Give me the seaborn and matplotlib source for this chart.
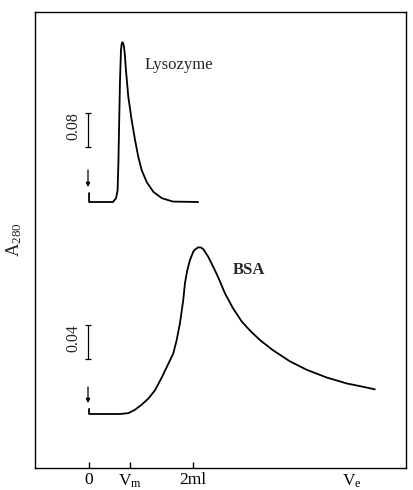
import numpy as np
import pandas as pd
import matplotlib
matplotlib.use("Agg")
import matplotlib.pyplot as plt
import seaborn as sns

# ---------------- data (elution volume in ml, absorbance A280) ----------------
lys_ml = [0.0, 0.0, 0.46, 0.52, 0.55, 0.565, 0.577, 0.596, 0.615, 0.628, 0.64,
          0.655, 0.673, 0.69, 0.71, 0.756, 0.82, 0.885, 0.948, 1.013, 1.11,
          1.237, 1.40, 1.615, 2.10]
lys_A = [0.021, 0.0, 0.0, 0.009, 0.028, 0.092, 0.169, 0.287, 0.358, 0.372, 0.376,
         0.374, 0.365, 0.345, 0.311, 0.247, 0.193, 0.146, 0.106, 0.075, 0.047,
         0.024, 0.009, 0.001, 0.0]

bsa_ml = [0.0, 0.0, 0.596, 0.756, 0.885, 1.013, 1.14, 1.27, 1.40, 1.525, 1.62,
          1.687, 1.75, 1.813, 1.846, 1.89, 1.942, 2.006, 2.05, 2.10, 2.15,
          2.198, 2.294, 2.423, 2.506, 2.615, 2.775, 2.937, 3.10, 3.29, 3.54,
          3.865, 4.19, 4.57, 4.956, 5.275, 5.50]
bsa_A = [0.006, 0.0, 0.0, 0.001, 0.005, 0.011, 0.018, 0.028, 0.043, 0.059, 0.071,
         0.087, 0.107, 0.134, 0.154, 0.169, 0.181, 0.191, 0.194, 0.196, 0.196,
         0.194, 0.185, 0.169, 0.158, 0.142, 0.124, 0.109, 0.098, 0.087,
         0.075, 0.062, 0.052, 0.043, 0.036, 0.032, 0.029]

tick_pos = [0.0, 0.79, 2.0, 5.06]
tick_labels = ["0", r"$\mathregular{V_m}$", "2ml", r"$\mathregular{V_e}$"]
names = ["Lysozyme", "BSA"]
scale_bars = [0.08, 0.04]

# ---------------- layout constants (display units) ----------------
lys_gain, lys_base = 34 / 0.08, 266
bsa_gain, bsa_base = 34 / 0.04, 54

sns.set_style("white")
plt.rcParams["font.family"] = ["Liberation Serif", "DejaVu Serif"]
plt.rcParams["mathtext.fontset"] = "custom"
plt.rcParams["mathtext.rm"] = "Liberation Serif"
plt.rcParams["mathtext.bf"] = "Liberation Serif:bold"
plt.rcParams["mathtext.it"] = "Liberation Serif:italic"

fig = plt.figure(figsize=(4.14, 4.90), dpi=100)
ax = fig.add_axes([35 / 414, 22 / 490, 371 / 414, 456 / 490])

df_l = pd.DataFrame({"ml": lys_ml, "y": np.array(lys_A) * lys_gain + lys_base})
df_b = pd.DataFrame({"ml": bsa_ml, "y": np.array(bsa_A) * bsa_gain + bsa_base})
for df in (df_l, df_b):
    sns.lineplot(data=df, x="ml", y="y", sort=False, estimator=None,
                 color="black", lw=1.3, ax=ax,
                 solid_joinstyle="round", solid_capstyle="round")

ax.set_xlim(-1.04, 6.1)
ax.set_ylim(0, 456)

# scale bars
for base, val, gain, off in [(lys_base, scale_bars[0], lys_gain, 55),
                             (bsa_base, scale_bars[1], bsa_gain, 55)]:
    y0 = base + off
    h = val * gain
    ax.errorbar([-0.02], [y0 + h / 2], yerr=[h / 2], color="black",
                capsize=2.5, elinewidth=0.9, capthick=0.9)
    ax.text(-0.31, y0 + h / 2 + 4, f"{val:.2f}", rotation=90, ha="center",
            va="center", fontsize=11.5)

# injection arrows
for ys, ye in [(298, 281), (81, 65)]:
    ax.annotate("", xy=(-0.02, ye), xytext=(-0.02, ys),
                arrowprops=dict(arrowstyle="-|>", lw=0.9, color="black",
                                mutation_scale=6, shrinkA=0, shrinkB=0))

ax.text(1.07, 403, names[0], fontsize=12, ha="left", va="center")
ax.text(2.77, 198, names[1], fontsize=12, fontweight="bold", ha="left",
        va="center")

ax.set_xticks(tick_pos)
ax.set_xticklabels(tick_labels, fontsize=12.5)
ax.tick_params(axis="x", direction="in", length=4, width=1, pad=3,
               bottom=True, colors="black")
ax.xaxis.get_major_ticks()[3].tick1line.set_visible(False)
ax.set_yticks([])
ax.set_xlabel("")
ax.set_ylabel(r"$\mathregular{A_{280}}$", fontsize=13.5, labelpad=8)

for s in ax.spines.values():
    s.set_color("black")
    s.set_linewidth(1.0)

fig.savefig("out.png", dpi=100)
